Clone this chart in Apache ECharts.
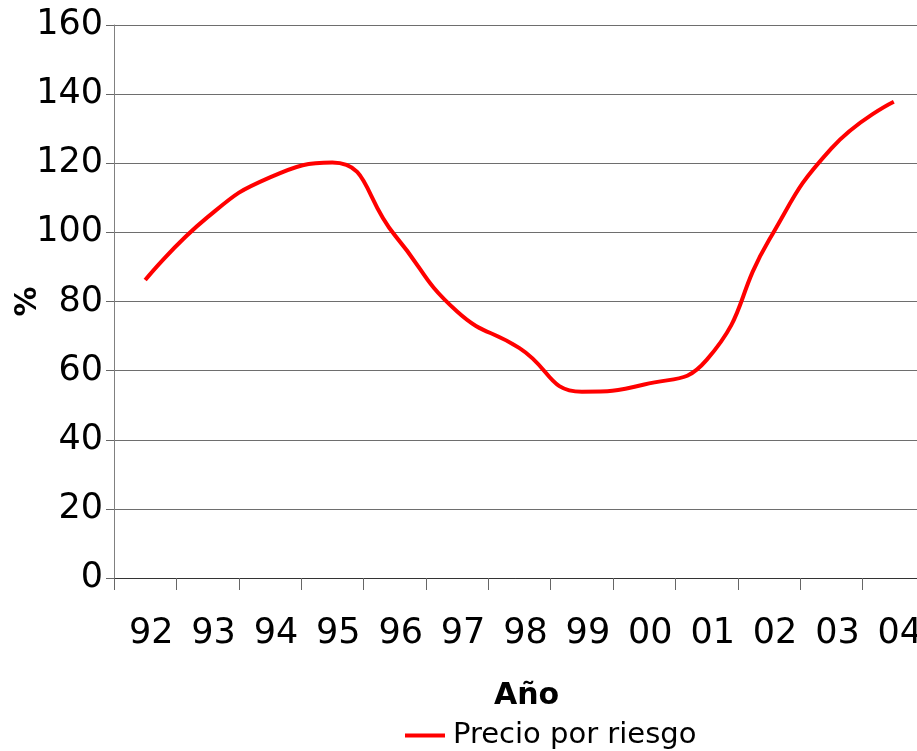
<!DOCTYPE html>
<html>
<head>
<meta charset="utf-8">
<script src="https://cdn.jsdelivr.net/npm/echarts@6/dist/echarts.min.js"></script>
<style>
html,body{margin:0;padding:0;background:#fff;}
#chart{width:917px;height:751px;}
</style>
</head>
<body>
<div id="chart"></div>
<script>
var years = ['92','93','94','95','96','97','98','99','00','01','02','03','04'];
var precioPorRiesgo = [86.2, 104.4, 115.9, 120.2, 99.2, 77.1, 66.5, 53.9, 56.0, 63.1, 97.8, 124.3, 137.8];
var yTicks = {min: 0, max: 160, interval: 20};
var seriesName = 'Precio por riesgo';
var xTitle = 'Año';
var yTitle = '%';

var chart = echarts.init(document.getElementById('chart'), null, {renderer: 'canvas'});
var font = 'DejaVu Sans, Verdana, sans-serif';
chart.setOption({
  animation: false,
  backgroundColor: '#ffffff',
  grid: {left: 114, top: 25, width: 811, bottom: 173, containLabel: false, outerBoundsMode: 'none'},
  legend: {
    left: 405, top: 721,
    padding: 0,
    icon: 'rect',
    itemWidth: 40, itemHeight: 4, itemGap: 10,
    textStyle: {fontFamily: font, fontSize: 29, color: '#000', padding: [0,0,0,3]},
    data: [seriesName]
  },
  xAxis: {
    type: 'category',
    data: years,
    boundaryGap: true,
    name: xTitle,
    nameLocation: 'middle',
    nameGap: 103,
    nameMoveOverlap: false,
    nameTextStyle: {fontFamily: font, fontSize: 30, fontWeight: 'bold', color: '#000', padding: [0,0,0,14]},
    axisLine: {show: true, lineStyle: {color: '#333', width: 1}},
    axisTick: {show: true, length: 12, alignWithLabel: false, lineStyle: {color: '#666'}},
    axisLabel: {fontFamily: font, fontSize: 35, color: '#000', margin: 38, padding: [0,0,0,12], interval: 0},
    splitLine: {show: false}
  },
  yAxis: {
    type: 'value',
    min: yTicks.min, max: yTicks.max, interval: yTicks.interval,
    name: yTitle,
    nameLocation: 'middle',
    nameRotate: 90,
    nameGap: 71,
    nameMoveOverlap: false,
    nameTextStyle: {fontFamily: font, fontSize: 30, fontWeight: 'bold', color: '#000'},
    axisLine: {show: true, lineStyle: {color: '#808080', width: 1}},
    axisTick: {show: true, length: 8, lineStyle: {color: '#666'}},
    axisLabel: {fontFamily: font, fontSize: 35, color: '#000', margin: 11},
    splitLine: {show: true, lineStyle: {color: '#6e6e6e', width: 1}}
  },
  series: [{
    name: seriesName,
    type: 'line',
    data: precioPorRiesgo,
    smooth: 0.5,
    symbol: 'none',
    lineStyle: {color: '#ff0000', width: 4},
    itemStyle: {color: '#ff0000'}
  }]
});
</script>
</body>
</html>
